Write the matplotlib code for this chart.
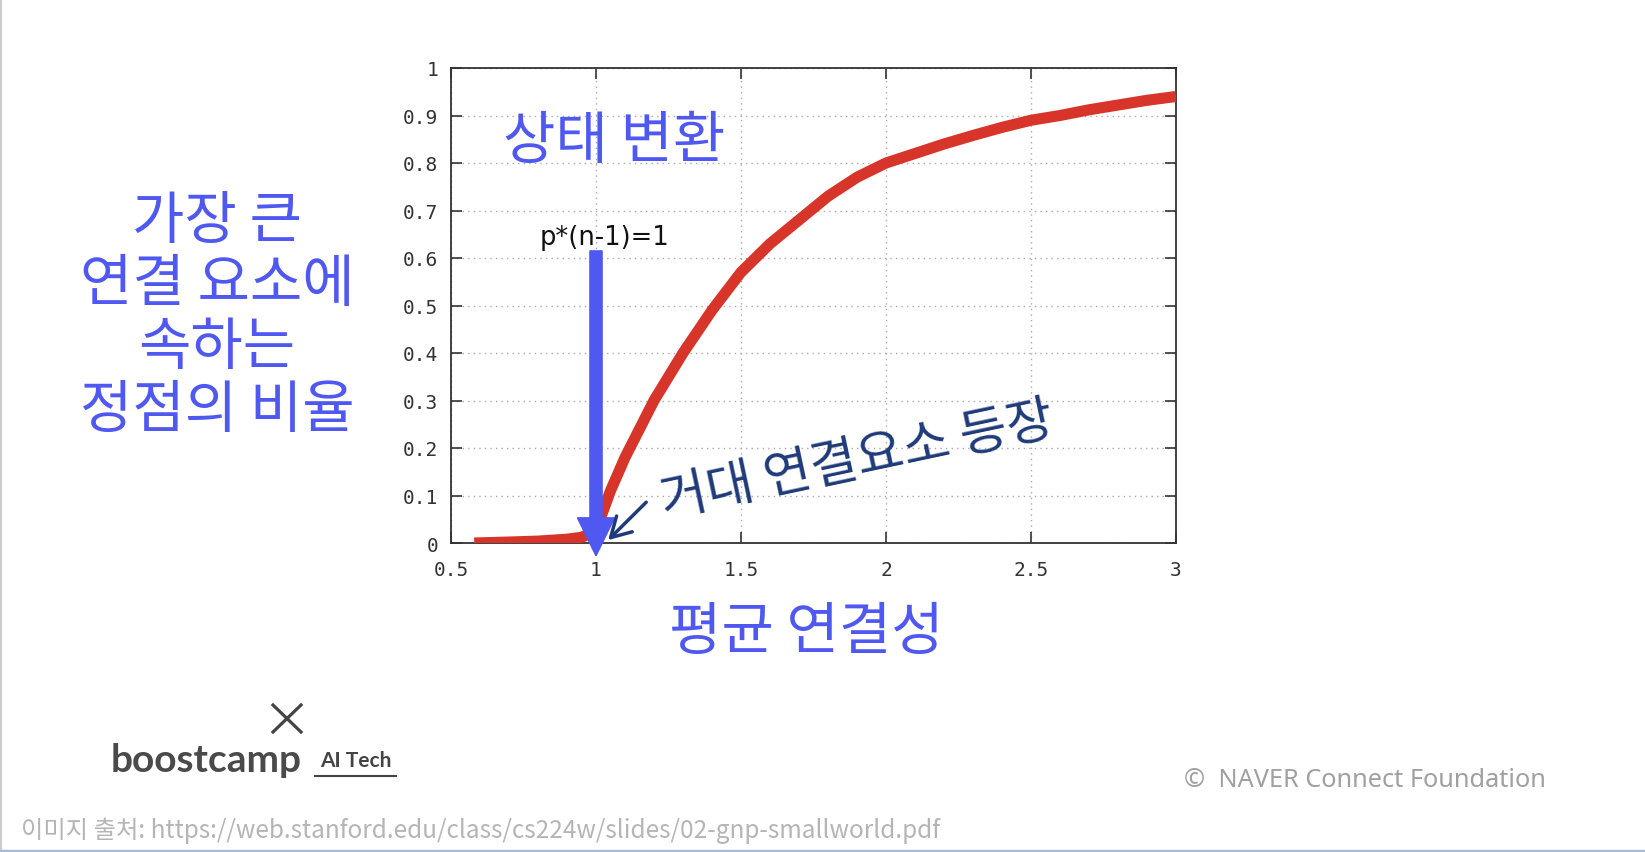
import matplotlib
matplotlib.use("Agg")
import matplotlib.pyplot as plt
from matplotlib.lines import Line2D

plt.rcParams['font.family'] = ['Noto Sans CJK KR', 'DejaVu Sans']

# average degree vs. fraction of nodes in the largest component
avg_degree = [0.58, 0.7, 0.8, 0.9, 0.95, 0.98, 1.0, 1.02, 1.05, 1.1, 1.15, 1.2, 1.25,
              1.3, 1.35, 1.4, 1.45, 1.5, 1.55, 1.6, 1.65, 1.7, 1.75, 1.8, 1.9, 2.0,
              2.1, 2.2, 2.3, 2.4, 2.5, 2.6, 2.7, 2.8, 2.9, 3.0]
giant_frac = [0.0, 0.002, 0.004, 0.008, 0.012, 0.02, 0.035, 0.06, 0.11, 0.18, 0.24, 0.30, 0.35,
              0.40, 0.445, 0.49, 0.53, 0.57, 0.60, 0.63, 0.655, 0.68, 0.705, 0.73, 0.77, 0.80,
              0.82, 0.84, 0.858, 0.875, 0.89, 0.90, 0.912, 0.922, 0.932, 0.94]

x_ticks = [0.5, 1, 1.5, 2, 2.5, 3]
y_ticks = [0, 0.1, 0.2, 0.3, 0.4, 0.5, 0.6, 0.7, 0.8, 0.9, 1]

critical_x = 1.0
arrow_top = 0.615

W, H = 1645, 853
BLUE = '#4f58f0'
NAVY = '#1e3a78'

fig = plt.figure(figsize=(W / 100, H / 100), dpi=100)
ax = fig.add_axes([451 / W, 1 - 544 / H, (1176 - 451) / W, (544 - 69) / H])

ax.plot(avg_degree, giant_frac, color='#d8352a', lw=8, solid_capstyle='butt',
        solid_joinstyle='round', zorder=3)

ax.set_xlim(0.5, 3)
ax.set_ylim(0, 1)
ax.set_xticks(x_ticks)
ax.set_xticklabels([f'{t:g}' for t in x_ticks])
ax.set_yticks(y_ticks)
ax.set_yticklabels([f'{t:g}' for t in y_ticks])
ax.tick_params(direction='in', length=8, width=1.2, top=True, right=True, colors='#333333',
               labelsize=14, pad=9)
ax.tick_params(axis='x', pad=12)
for lab in ax.get_xticklabels() + ax.get_yticklabels():
    lab.set_family('DejaVu Sans Mono')
ax.grid(True, color='#aaaaaa', lw=1, linestyle=(0, (1, 3)))
for sp in ax.spines.values():
    sp.set_color('#333333')
    sp.set_linewidth(1.3)

# blue arrow at p*(n-1)=1
ax.arrow(critical_x, arrow_top, 0, -arrow_top - 0.027, width=0.042, head_width=0.128,
         head_length=0.08, length_includes_head=True, color=BLUE, clip_on=False, zorder=5)
ax.text(critical_x + 0.03, 0.645, 'p*(n-1)=1', fontsize=18.5, color='#111111',
        ha='center', va='center', family='DejaVu Sans')

# handwritten note
ax.annotate('', xy=(1.035, 0.002), xytext=(1.18, 0.09),
            arrowprops=dict(arrowstyle='->,head_length=1.4,head_width=0.8', color=NAVY, lw=2.5),
            zorder=6)
ax.text(1.90, 0.175, '거대 연결요소 등장', fontsize=37, color=NAVY, rotation=12,
        ha='center', va='center', fontweight='light')


def ftext(x, y, s, **kw):
    fig.text(x / W, 1 - y / H, s, **kw)


ftext(614, 142, '상태 변환', fontsize=41, color=BLUE, ha='center', va='center')
ftext(217, 316, '가장 큰\n연결 요소에\n속하는\n정점의 비율', fontsize=41, color=BLUE,
      ha='center', va='center', linespacing=1.1)
ftext(806, 633, '평균 연결성', fontsize=41, color=BLUE, ha='center', va='center')

# logo
fig.add_artist(Line2D([273 / W, 301 / W], [1 - 706 / H, 1 - 733 / H], color='#444444', lw=2.3))
fig.add_artist(Line2D([273 / W, 301 / W], [1 - 733 / H, 1 - 706 / H], color='#444444', lw=2.3))
ftext(206, 761, 'boostcamp', fontsize=28, color='#4a4a4a', ha='center', va='center',
      family='Lato', fontweight='bold')
ftext(356, 761, 'AI Tech', fontsize=15, color='#444444', ha='center', va='center',
      family='Lato', fontweight='bold')
fig.add_artist(Line2D([315 / W, 396 / W], [1 - 777 / H, 1 - 777 / H], color='#444444', lw=1.5))

ftext(1365, 781, '©  NAVER Connect Foundation', fontsize=18.2, color='#a0a0a0',
      ha='center', va='center', family='Noto Sans', fontweight='light')
ftext(21, 831, '이미지 출처: https://web.stanford.edu/class/cs224w/slides/02-gnp-smallworld.pdf',
      fontsize=17.5, color='#b5b5b5', ha='left', va='center', fontweight='light')

# slide border
fig.add_artist(Line2D([0.5 / W, 0.5 / W], [0, 1], color='#cccccc', lw=1.5))
fig.add_artist(Line2D([0, 1], [1.5 / H, 1.5 / H], color='#a9b9d9', lw=2.5))

fig.savefig('out.png', dpi=100)
